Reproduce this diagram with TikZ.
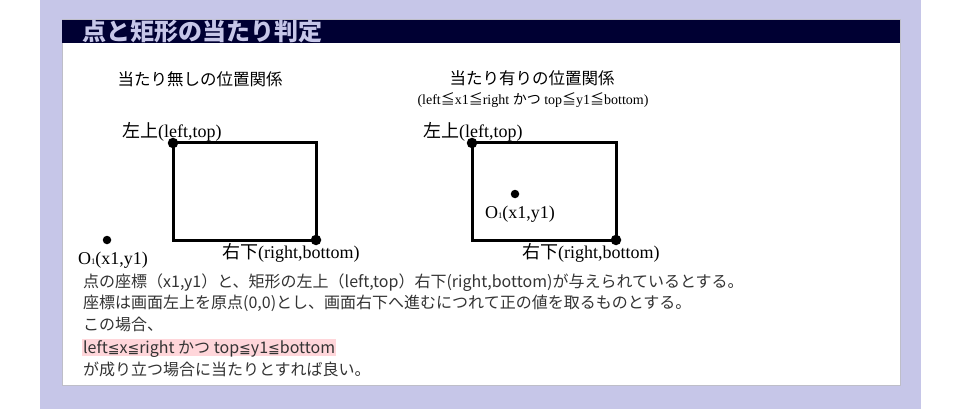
\documentclass[tikz,border=0pt]{standalone}
\usepackage{fontspec}
\setmainfont{Liberation Serif}
\newfontfamily\cjk{Noto Sans CJK JP}
\newfontfamily\symfont{DejaVu Sans}
\definecolor{lav}{RGB}{198,198,232}
\definecolor{navy}{RGB}{0,0,51}
\definecolor{boxgray}{RGB}{190,190,200}
\definecolor{hlpink}{RGB}{255,214,218}
\definecolor{bodytext}{RGB}{51,51,51}
\tikzset{
  lbl/.style={inner sep=0pt, anchor=base west, text=black, font=\fontsize{18}{20}\selectfont},
  heading/.style={inner sep=0pt, anchor=base, text=black, font=\fontsize{16.5}{18}\selectfont},
  small/.style={inner sep=0pt, anchor=base, text=black, font=\fontsize{14}{16}\selectfont},
  body/.style={inner sep=0pt, anchor=base west, text=bodytext, font=\cjk\fontsize{16}{18}\selectfont},
  cornerdot/.style={circle, fill=black, inner sep=0pt, minimum size=10.5pt},
  ptdot/.style={circle, fill=black, inner sep=0pt, minimum size=8.5pt},
  rectline/.style={draw=black, line width=3pt, line join=miter},
}
\newcommand{\Osub}{O{\fontsize{8.5}{8.5}\selectfont 1}}
\newcommand{\leqq}{{\symfont\fontsize{14}{16}\selectfont ≦}}
\begin{document}
\begin{tikzpicture}[x=1pt,y=-1pt]
\useasboundingbox (0,0) rectangle (958,409);
\fill[white] (0,0) rectangle (958,409);
\fill[lav] (40,0) rectangle (921,409);
\filldraw[fill=white, draw=boxgray, line width=1pt] (62,20) rectangle (900,385);
\fill[navy] (62,20) rectangle (900,43);
\node[inner sep=0pt, anchor=base west, text=lav, font=\cjk\bfseries\fontsize{24}{24}\selectfont] (title) at (82,41) {点と矩形の当たり判定};

% left diagram
\node[heading] (titleA) at (200,86) {{\cjk 当たり無しの位置関係}};
\coordinate (A1) at (173,143);
\coordinate (A2) at (316,240);
\draw[rectline] (A1) rectangle (A2);
\node[cornerdot] (dA1) at (A1) {};
\node[cornerdot] (dA2) at (A2) {};
\node[ptdot] (pA) at (107,240) {};
\node[lbl] (tlA) at (122,138) {{\cjk 左上}(left,top)};
\node[lbl] (brA) at (222,258) {{\cjk 右下}(right,bottom)};
\node[lbl] (oA) at (78,264) {\Osub(x1,y1)};

% right diagram
\node[heading] (titleB) at (532,85) {{\cjk 当たり有りの位置関係}};
\node[small] (condB) at (533,105) {(left{\cjk ≦}x1{\cjk ≦}right {\cjk かつ} top{\cjk ≦}y1{\cjk ≦}bottom)};
\coordinate (B1) at (472,143);
\coordinate (B2) at (616,240);
\draw[rectline] (B1) rectangle (B2);
\node[cornerdot] (dB1) at (B1) {};
\node[cornerdot] (dB2) at (B2) {};
\node[ptdot] (pB) at (515,194) {};
\node[lbl] (tlB) at (423,138) {{\cjk 左上}(left,top)};
\node[lbl] (brB) at (522,258) {{\cjk 右下}(right,bottom)};
\node[lbl] (oB) at (485,218) {\Osub(x1,y1)};

% explanation
\node[body] (l1) at (83,287) {点の座標（x1,y1）と、矩形の左上（left,top）右下(right,bottom)が与えられているとする。};
\node[body] (l2) at (83,308) {座標は画面左上を原点(0,0)とし、画面右下へ進むにつれて正の値を取るものとする。};
\node[body] (l3) at (83,330) {この場合、};
\node[body, fill=hlpink, inner xsep=1pt, text height=14pt, text depth=3pt] (l4) at (82,353) {left\leqq x\leqq right かつ top\leqq y1\leqq bottom};
\node[body] (l5) at (83,375) {が成り立つ場合に当たりとすれば良い。};
\end{tikzpicture}
\end{document}
